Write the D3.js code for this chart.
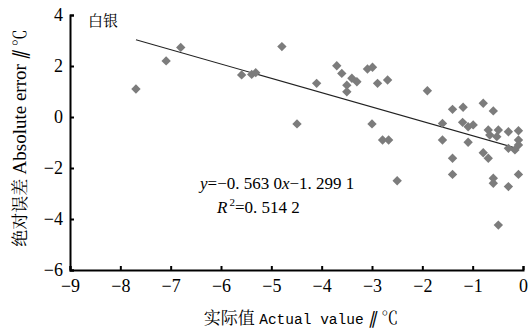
<!DOCTYPE html>
<html>
<head>
<meta charset="utf-8">
<script src="https://cdn.jsdelivr.net/npm/d3@7"></script>
<style>
  body { margin: 0; background: #fff; }
  svg { display: block; }
</style>
</head>
<body>
<div id="chart"></div>
<script>
// Actual value (°C) vs absolute error (°C), station 白银
const actual = [
  -7.69, -7.09, -6.80, -5.59, -5.39, -5.31,
  -4.79, -4.10, -4.49, -3.70, -3.60, -3.40, -3.30, -3.50, -3.50, -3.09, -2.99, -2.89, -2.69,
  -3.00, -2.79, -2.67, -2.50,
  -1.90, -1.40, -1.19, -0.79, -0.59, -1.60, -1.20, -1.09, -0.99, -1.60, -1.09,
  -0.69, -0.49, -0.29, -0.09, -0.66, -0.52, -0.09, -0.29, -0.16, -0.09,
  -1.40, -0.79, -0.69, -1.40, -0.59, -0.59, -0.29, -0.09, -0.49
];
const absError = [
  1.10, 2.20, 2.73, 1.65, 1.67, 1.74,
  2.76, 1.32, -0.27, 2.01, 1.71, 1.52, 1.38, 1.25, 0.99, 1.88, 1.95, 1.32, 1.45,
  -0.27, -0.90, -0.90, -2.50,
  1.03, 0.30, 0.38, 0.54, 0.24, -0.25, -0.21, -0.38, -0.31, -0.90, -0.99,
  -0.51, -0.51, -0.58, -0.54, -0.71, -0.77, -0.90, -1.23, -1.29, -1.10,
  -1.62, -1.40, -1.62, -2.25, -2.40, -2.60, -2.73, -2.25, -4.24
];
const slope = -0.5630;
const intercept = -1.2991;
const xTicks = [-9, -8, -7, -6, -5, -4, -3, -2, -1, 0];
const yTicks = [-6, -4, -2, 0, 2, 4];

const SERIF = '"Liberation Serif", serif';
const CJK = '"Noto Serif CJK SC", serif';
const MONO = '"Liberation Mono", monospace';

const width = 528, height = 333;
const margin = {top: 15, right: 5, bottom: 63, left: 70};

const svg = d3.select("#chart").append("svg")
  .attr("width", width)
  .attr("height", height);

const x = d3.scaleLinear().domain([-9, 0]).range([margin.left, 523]);
const y = d3.scaleLinear().domain([-6, 4]).range([height - margin.bottom, margin.top]);

const fmt = d => d < 0 ? "\u2212" + Math.abs(d) : String(d);

// x axis, ticks pointing up
const xAxis = svg.append("g")
  .attr("transform", `translate(0,${y(-6)})`)
  .call(d3.axisBottom(x).tickValues(xTicks).tickSize(-4).tickPadding(7).tickFormat(fmt));

// y axis, ticks pointing right
const yAxis = svg.append("g")
  .attr("transform", `translate(${x(-9)},0)`)
  .call(d3.axisLeft(y).tickValues(yTicks).tickSize(-4).tickPadding(7).tickFormat(fmt));

for (const ax of [xAxis, yAxis]) {
  ax.attr("font-family", null);
  ax.select(".domain").attr("stroke", "#000").attr("stroke-width", 2);
  ax.selectAll(".tick line").attr("stroke", "#000").attr("stroke-width", 2);
  ax.selectAll(".tick text")
    .attr("fill", "#000")
    .style("font-family", SERIF)
    .style("font-size", "18px");
}
xAxis.selectAll(".tick text").attr("dy", "0.85em");

// regression line across the data range
const [xMin, xMax] = d3.extent(actual);
svg.append("line")
  .attr("x1", x(xMin))
  .attr("y1", y(slope * xMin + intercept))
  .attr("x2", x(xMax))
  .attr("y2", y(slope * xMax + intercept))
  .attr("stroke", "#222")
  .attr("stroke-width", 1.1);

// diamonds
const pts = actual.map((v, i) => ({x: v, y: absError[i]}));
svg.append("g").selectAll("path")
  .data(pts)
  .join("path")
  .attr("d", d3.symbol(d3.symbolDiamond2, 56))
  .attr("transform", d => `translate(${x(d.x)},${y(d.y)})`)
  .attr("fill", "#7c7c7c");

// station label
svg.append("text")
  .attr("x", 88)
  .attr("y", 26)
  .style("font-family", CJK)
  .style("font-size", "15px")
  .attr("fill", "#000")
  .text("白银");

// equation
const eq = svg.append("text")
  .attr("x", 200)
  .attr("y", 189)
  .style("font-family", SERIF)
  .style("font-size", "17px")
  .attr("fill", "#000");
eq.append("tspan").style("font-style", "italic").text("y");
eq.append("tspan").text("=\u22120. 563  0");
eq.append("tspan").style("font-style", "italic").text("x");
eq.append("tspan").text("\u22121. 299  1");

const r2 = svg.append("text")
  .attr("x", 217)
  .attr("y", 213)
  .style("font-family", SERIF)
  .style("font-size", "17px")
  .attr("fill", "#000");
r2.append("tspan").style("font-style", "italic").text("R");
r2.append("tspan").style("font-size", "11px").attr("dy", -7).attr("dx", 2).text("2");
r2.append("tspan").attr("dy", 7).text("=0. 514  2");

// axis titles
const xt = svg.append("text")
  .attr("x", 301)
  .attr("y", 324)
  .attr("text-anchor", "middle")
  .attr("fill", "#000");
xt.append("tspan").style("font-family", CJK).style("font-size", "17px").text("实际值 ");
xt.append("tspan").style("font-family", MONO).style("font-size", "14.5px").text("Actual value");
xt.append("tspan").style("font-family", SERIF).style("font-size", "17px").style("font-style", "italic").text(" \u2225 ");
xt.append("tspan").style("font-family", CJK).style("font-size", "17px").text("\u2103");

const yt = svg.append("text")
  .attr("transform", "translate(26,138) rotate(-90)")
  .attr("text-anchor", "middle")
  .attr("fill", "#000");
yt.append("tspan").style("font-family", CJK).style("font-size", "17px").text("绝对误差 ");
yt.append("tspan").style("font-family", SERIF).style("font-size", "19px").text("Absolute error");
yt.append("tspan").style("font-family", SERIF).style("font-size", "18px").style("font-style", "italic").text("  \u2225  ");
yt.append("tspan").style("font-family", CJK).style("font-size", "17px").text("\u2103");
</script>
</body>
</html>
